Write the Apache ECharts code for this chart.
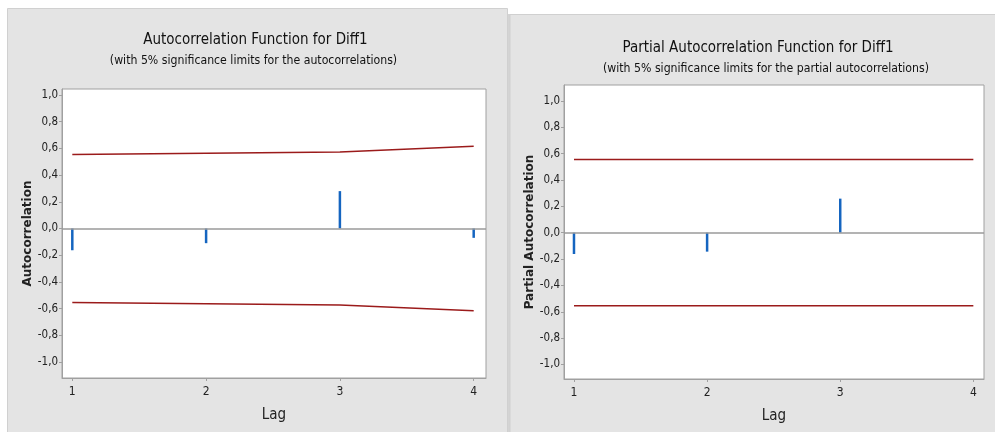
<!DOCTYPE html>
<html>
<head>
<meta charset="utf-8">
<script src="https://cdn.jsdelivr.net/npm/echarts@6/dist/echarts.min.js"></script>
<style>
html,body{margin:0;padding:0;background:#fff;}
#c{width:995px;height:432px;}
</style>
</head>
<body>
<div id="c"></div>
<script>
// ---- data ----
const lags = [1, 2, 3, 4];
const acfValues = [-0.163, -0.11, 0.28, -0.07];
const acfUpper = [0.555, 0.563, 0.573, 0.616];
const acfLower = [-0.555, -0.563, -0.573, -0.616];
const pacfLags = [1, 2, 3];
const pacfValues = [-0.162, -0.144, 0.258];
const pacfUpper = [0.555, 0.555, 0.555, 0.555];
const pacfLower = [-0.555, -0.555, -0.555, -0.555];
const yTicks = [-1.0, -0.8, -0.6, -0.4, -0.2, 0.0, 0.2, 0.4, 0.6, 0.8, 1.0];
const xTicks = [1, 2, 3, 4];

const pairs = (xs, ys) => xs.map((x, i) => [x, ys[i]]);
const fmtY = v => v.toFixed(1).replace('.', ',');

const titleFont = '"Liberation Sans Narrow", "DejaVu Sans Condensed", sans-serif';
const tickFont = '"Liberation Sans Narrow", "DejaVu Sans Condensed", sans-serif';

function xAxis(gi) {
  return {
    type: 'value', gridIndex: gi, min: gi === 0 ? 0.923 : 0.925, max: gi === 0 ? 4.092 : 4.08,
    name: 'Lag', nameLocation: 'middle', nameGap: 30,
    nameTextStyle: {fontFamily: titleFont, fontSize: 15, color: '#222'},
    axisLine: {show: true, onZero: false, lineStyle: {color: '#a0a0a0', width: 1}},
    axisTick: {show: true, length: 3, customValues: xTicks, lineStyle: {color: '#a0a0a0'}},
    axisLabel: {customValues: xTicks, margin: 8, fontFamily: tickFont, fontSize: 12, color: '#222'},
    splitLine: {show: false}
  };
}
function yAxis(gi, name, min, max) {
  return {
    type: 'value', gridIndex: gi, min: min, max: max,
    name: name, nameLocation: 'middle', nameGap: gi === 0 ? 28 : 28,
    nameTextStyle: {fontFamily: '"DejaVu Sans", sans-serif', fontWeight: 'bold', fontSize: 12, color: '#222'},
    axisLine: {show: true, lineStyle: {color: '#a0a0a0', width: 1}},
    axisTick: {show: true, length: 3, customValues: yTicks, lineStyle: {color: '#a0a0a0'}},
    axisLabel: {customValues: yTicks, formatter: fmtY, margin: 4, fontFamily: tickFont, fontSize: 11.5, color: '#222'},
    splitLine: {show: false}
  };
}
function stems(gi, xs, ys) {
  return {
    type: 'bar', xAxisIndex: gi, yAxisIndex: gi, data: pairs(xs, ys), barWidth: 2.5,
    itemStyle: {color: '#1565c0'}, silent: true,
    markLine: {silent: true, symbol: 'none', label: {show: false},
      lineStyle: {color: '#9a9a9a', width: 1.5, type: 'solid'}, data: [{yAxis: 0}]}
  };
}
function limit(gi, ys) {
  return {
    type: 'line', xAxisIndex: gi, yAxisIndex: gi, data: pairs(lags, ys), symbol: 'none',
    lineStyle: {color: '#9b1b1b', width: 1.5}, silent: true, z: 3
  };
}

const chart = echarts.init(document.getElementById('c'), null, {renderer: 'canvas'});
chart.setOption({
  animation: false,
  backgroundColor: '#ffffff',
  graphic: [
    {type: 'rect', z: -100, shape: {x: 7.5, y: 8.5, width: 500, height: 430}, style: {fill: '#e4e4e4', stroke: '#d0d0d0', lineWidth: 1}},
    {type: 'rect', z: -100, shape: {x: 508, y: 14, width: 2, height: 420}, style: {fill: '#d4d4d4'}},
    {type: 'rect', z: -100, shape: {x: 510, y: 14.5, width: 490, height: 420}, style: {fill: '#e4e4e4', stroke: '#d0d0d0', lineWidth: 1}},
    {type: 'text', x: 255.5, y: 40, style: {text: 'Autocorrelation Function for Diff1', align: 'center', verticalAlign: 'middle', font: '15px ' + titleFont, fill: '#111'}},
    {type: 'text', x: 253.5, y: 61, style: {text: '(with 5% significance limits for the autocorrelations)', align: 'center', verticalAlign: 'middle', font: '12.2px ' + titleFont, fill: '#111'}},
    {type: 'text', x: 758, y: 48, style: {text: 'Partial Autocorrelation Function for Diff1', align: 'center', verticalAlign: 'middle', font: '15px ' + titleFont, fill: '#111'}},
    {type: 'text', x: 766, y: 69, style: {text: '(with 5% significance limits for the partial autocorrelations)', align: 'center', verticalAlign: 'middle', font: '12.2px ' + titleFont, fill: '#111'}}
  ],
  grid: [
    {left: 62, top: 89, width: 424, height: 289, show: true, backgroundColor: '#ffffff', borderColor: '#a0a0a0', borderWidth: 1},
    {left: 564, top: 85, width: 420, height: 294, show: true, backgroundColor: '#ffffff', borderColor: '#a0a0a0', borderWidth: 1}
  ],
  xAxis: [xAxis(0), xAxis(1)],
  yAxis: [yAxis(0, 'Autocorrelation', -1.12, 1.045), yAxis(1, 'Partial Autocorrelation', -1.11, 1.12)],
  series: [
    stems(0, lags, acfValues), limit(0, acfUpper), limit(0, acfLower),
    stems(1, pacfLags, pacfValues), limit(1, pacfUpper), limit(1, pacfLower)
  ]
});
</script>
</body>
</html>
